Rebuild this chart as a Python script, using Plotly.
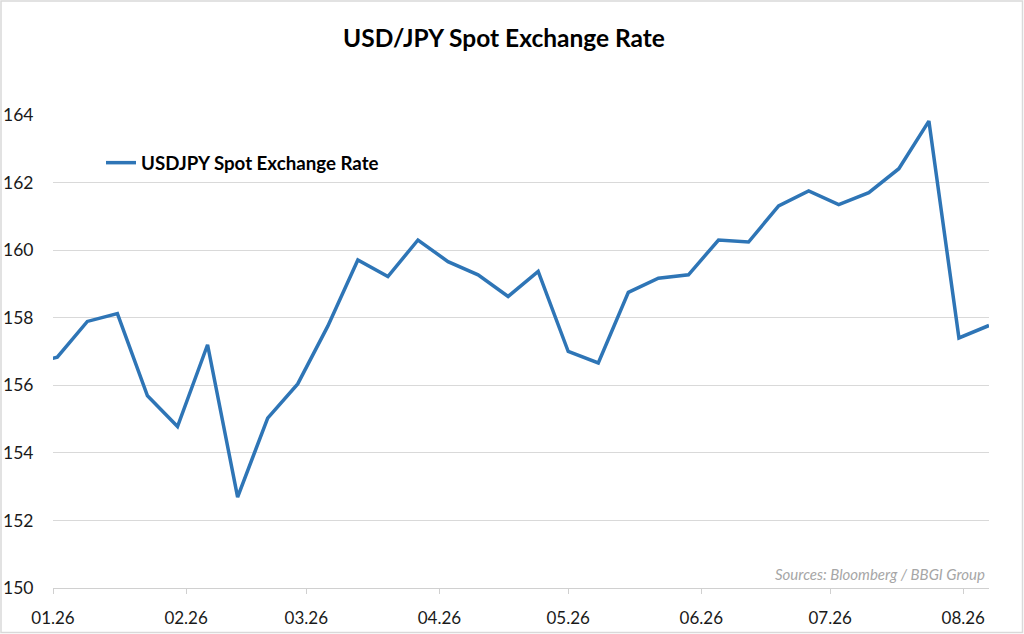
import plotly.graph_objects as go

# ---- data ----
dates = [
    "2025-12-26", "2026-01-02", "2026-01-09", "2026-01-16", "2026-01-23", "2026-01-30",
    "2026-02-06", "2026-02-13", "2026-02-20", "2026-02-27",
    "2026-03-06", "2026-03-13", "2026-03-20", "2026-03-27",
    "2026-04-03", "2026-04-10", "2026-04-17", "2026-04-24",
    "2026-05-01", "2026-05-08", "2026-05-15", "2026-05-22", "2026-05-29",
    "2026-06-05", "2026-06-12", "2026-06-19", "2026-06-26",
    "2026-07-03", "2026-07-10", "2026-07-17", "2026-07-24", "2026-07-31",
    "2026-08-07",
]
usdjpy = [
    156.62, 156.83, 157.89, 158.12, 155.69, 154.78,
    157.20, 152.69, 155.03, 156.04,
    157.75, 159.71, 159.22, 160.30,
    159.66, 159.27, 158.63, 159.37,
    157.00, 156.66, 158.75, 159.17, 159.27,
    160.30, 160.24, 161.31, 161.75,
    161.35, 161.70, 162.41, 163.82, 157.40,
    157.77,
]
tick_dates = ["2026-01-01", "2026-02-01", "2026-03-01", "2026-04-01",
              "2026-05-01", "2026-06-01", "2026-07-01", "2026-08-01"]
tick_labels = ["01.26", "02.26", "03.26", "04.26", "05.26", "06.26", "07.26", "08.26"]
y_ticks = [150, 152, 154, 156, 158, 160, 162, 164]

series_name = "USDJPY Spot Exchange Rate"
title_text = "USD/JPY Spot Exchange Rate"
source_text = "Sources: Bloomberg / BBGI Group"

FONT = "Lato"
W, H = 1024, 634
ML, MR, MT, MB = 53, 35, 115, 46
PW, PH = W - ML - MR, H - MT - MB


def px_x(p):
    return (p - ML) / PW


def px_y(p):
    return (H - MB - p) / PH


fig = go.Figure()
fig.add_trace(go.Scatter(
    x=dates, y=usdjpy, mode="lines", name=series_name,
    line=dict(color="#2E75B6", width=3.5),
    showlegend=True,
))

fig.update_layout(
    width=W, height=H,
    margin=dict(l=ML, r=MR, t=MT, b=MB, pad=0, autoexpand=False),
    paper_bgcolor="white", plot_bgcolor="white",
    font=dict(family=FONT, color="#1a1a1a"),
    title=dict(text="<b>" + title_text + "</b>", x=504 / W, xref="container",
               xanchor="center", y=1 - 38 / H, yref="container", yanchor="middle",
               font=dict(family=FONT, size=24.5, color="#000000")),
    showlegend=True,
    legend=dict(x=px_x(101), y=px_y(163), xanchor="left", yanchor="middle",
                bgcolor="rgba(0,0,0,0)", borderwidth=0,
                font=dict(family=FONT, size=18.7, color="#000000", weight="bold")),
    xaxis=dict(
        type="date", range=["2026-01-01", "2026-08-07"],
        tickvals=tick_dates, ticktext=tick_labels,
        showgrid=False, zeroline=False,
        showline=True, linecolor="#d0d0d0", linewidth=1,
        ticks="outside", ticklen=5, tickcolor="#d0d0d0", tickwidth=1,
        ticklabelstandoff=10,
        tickfont=dict(family=FONT, size=17, color="#1a1a1a"),
        automargin=False,
        fixedrange=True,
    ),
    yaxis=dict(
        range=[150, 164], tickvals=y_ticks,
        showgrid=True, gridcolor="#d9d9d9", gridwidth=1,
        zeroline=False, showline=False,
        ticks="outside", ticklen=15, tickcolor="rgba(0,0,0,0)",
        tickfont=dict(family=FONT, size=17.5, color="#1a1a1a"),
        automargin=False,
        fixedrange=True,
    ),
    shapes=[dict(
        type="rect", xref="paper", yref="paper",
        x0=px_x(1), x1=px_x(1022.5), y0=px_y(632.5), y1=px_y(1),
        line=dict(color="#d9d9d9", width=1.5), fillcolor="rgba(0,0,0,0)",
        layer="below",
    )],
    annotations=[dict(
        text="<i>" + source_text + "</i>", xref="paper", yref="paper",
        x=px_x(987), y=px_y(574), xanchor="right", yanchor="middle",
        showarrow=False, font=dict(family=FONT, size=15, color="#a6a6a6"),
    )],
)

fig.write_html(
    "out.html",
    config={"displayModeBar": False},
    post_script="document.body.style.margin='0';document.body.style.overflow='hidden';",
)
